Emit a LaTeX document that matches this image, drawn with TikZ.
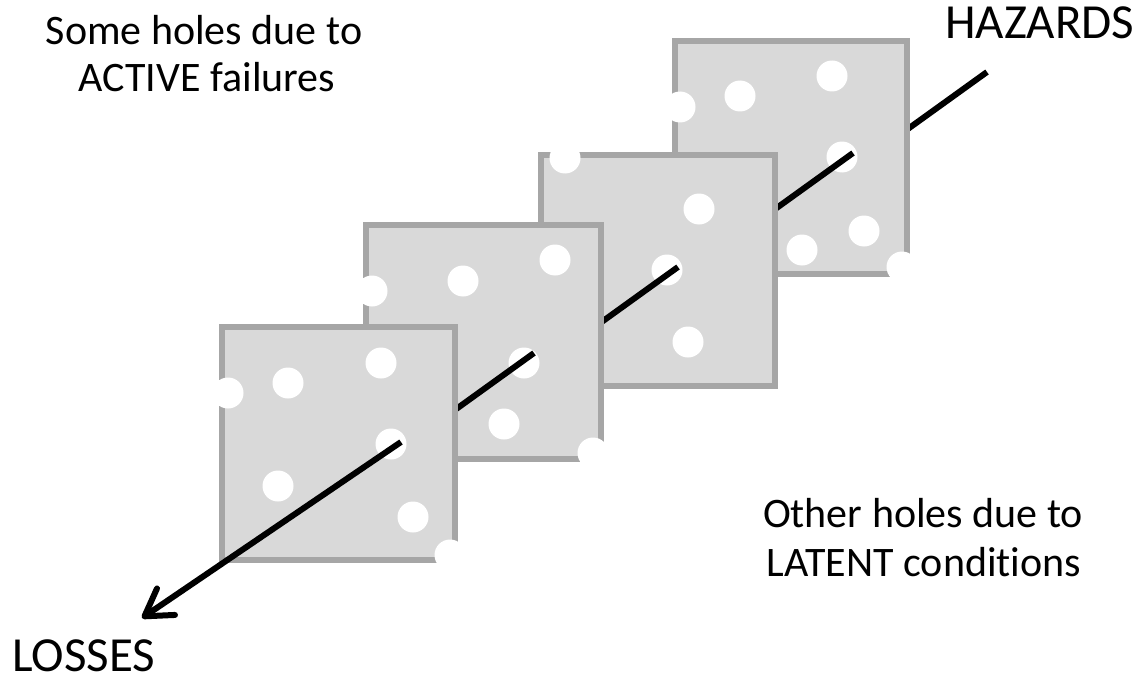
\documentclass[tikz,border=0pt]{standalone}
\usepackage{fontspec}
\setmainfont{Carlito}[Ligatures={NoCommon}]
\usetikzlibrary{arrows.meta}
\definecolor{slicefill}{HTML}{D9D9D9}
\definecolor{sliceedge}{HTML}{A6A6A6}
\begin{document}
\begin{tikzpicture}[x=1pt,y=-1pt,
  slicebox/.style={fill=slicefill,draw=sliceedge,line width=5.5pt},
  hole/.style={fill=white},
  trajectory/.style={line width=6pt,black},
  lbl/.style={font=\fontsize{42}{47}\selectfont,inner sep=0pt},
  biglbl/.style={font=\fontsize{49}{55}\selectfont,inner sep=0pt,text depth=0pt}]
\useasboundingbox (0,0) rectangle (1145,682);

% points where the accident trajectory passes through each slice
\coordinate (hz) at (987,72);
\coordinate (p4) at (853,153);
\coordinate (p3) at (678,267);
\coordinate (p2) at (534,353);
\coordinate (p1) at (401,442);
\coordinate (ls) at (142,618);

% incoming hazard, hidden behind the last slice
\draw[trajectory] (hz) -- ++(-107,77);

% slice 4 (rearmost)
\draw[slicebox] (675,41) rectangle +(232,233);
\foreach \p in {(680,107),(740,96),(832,76),(842,157),(802,250),(864,231),(902,267)}
  \fill[hole] \p circle[radius=15.5];
\draw[trajectory] (p4) -- ++(-100,72);

% slice 3
\draw[slicebox] (541,155) rectangle +(234,231);
\foreach \p in {(565,158),(699,209),(667,270),(688,342)}
  \fill[hole] \p circle[radius=15.5];
\draw[trajectory] (p3) -- ++(-100,72);

% slice 2
\draw[slicebox] (366,225) rectangle +(235,234);
\foreach \p in {(372,291),(463,281),(555,260),(524,363),(504,424),(593,453)}
  \fill[hole] \p circle[radius=15.5];
\draw[trajectory] (p2) -- ++(-100,72);

% slice 1 (front)
\draw[slicebox] (222,327) rectangle +(233,233);
\foreach \p in {(228,393),(288,383),(381,363),(391,444),(278,486),(413,517),(450,555)}
  \fill[hole] \p circle[radius=15.5];
\draw[trajectory,-{Straight Barb[length=26pt,width=32pt,round]}] (p1) -- (ls);

% labels
\node[lbl,anchor=base] (act1) at (204,45) {Some holes due to};
\node[lbl,anchor=base] (act2) at (207,92) {ACTIVE failures};
\node[biglbl,anchor=base west] (haz) at (945,39) {HAZARDS};
\node[lbl,anchor=base] (lat1) at (923,527) {Other holes due to};
\node[lbl,anchor=base] (lat2) at (924,576) {LATENT conditions};
\node[biglbl,anchor=base west] (loss) at (12,671) {LOSSES};
\end{tikzpicture}
\end{document}
